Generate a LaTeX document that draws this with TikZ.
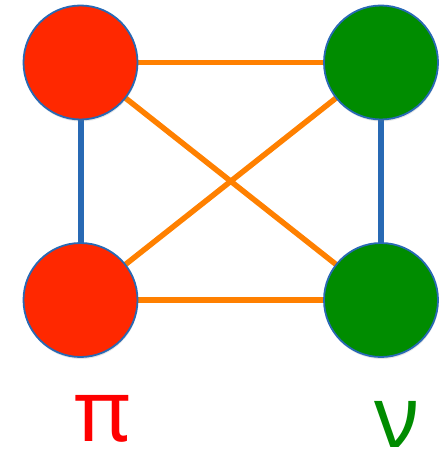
\documentclass[tikz,border=0pt]{standalone}
\usepackage{fontspec}
\setmainfont{Noto Sans}
\usetikzlibrary{shadows}
\definecolor{cred}{RGB}{255,40,0}
\definecolor{cgreen}{RGB}{0,140,0}
\definecolor{cblue}{RGB}{40,105,180}
\definecolor{corange}{RGB}{255,128,0}
\begin{document}
\begin{tikzpicture}[x=1pt,y=-1pt,
  ball/.style={circle,draw=cblue,line width=1.8pt,minimum size=114pt,inner sep=0pt,
    drop shadow={opacity=0.2,shadow xshift=0.5pt,shadow yshift=-2pt}},
  blueedge/.style={cblue,line width=6pt},
  orangeedge/.style={corange,line width=5.5pt},
  lbl/.style={font=\fontsize{86}{86}\selectfont,inner sep=0pt}]
\useasboundingbox (0,0) rectangle (447,452);
\coordinate (ctl) at (80.5,62.5);
\coordinate (ctr) at (381,62.5);
\coordinate (cbl) at (80.5,300);
\coordinate (cbr) at (381,300);
\draw[blueedge] (ctl) -- (cbl);
\draw[blueedge] (ctr) -- (cbr);
\draw[orangeedge] (ctl) -- (ctr);
\draw[orangeedge] (cbl) -- (cbr);
\draw[orangeedge] (ctl) -- (cbr);
\draw[orangeedge] (ctr) -- (cbl);
\node[ball,fill=cred] (tl) at (ctl) {};
\node[ball,fill=cgreen] (tr) at (ctr) {};
\node[ball,fill=cred] (bl) at (cbl) {};
\node[ball,fill=cgreen] (br) at (cbr) {};
\node[lbl,text=red] (pi) at (103,419) {π};
\node[lbl,text=cgreen] (nu) at (397,424) {ν};
\end{tikzpicture}
\end{document}
